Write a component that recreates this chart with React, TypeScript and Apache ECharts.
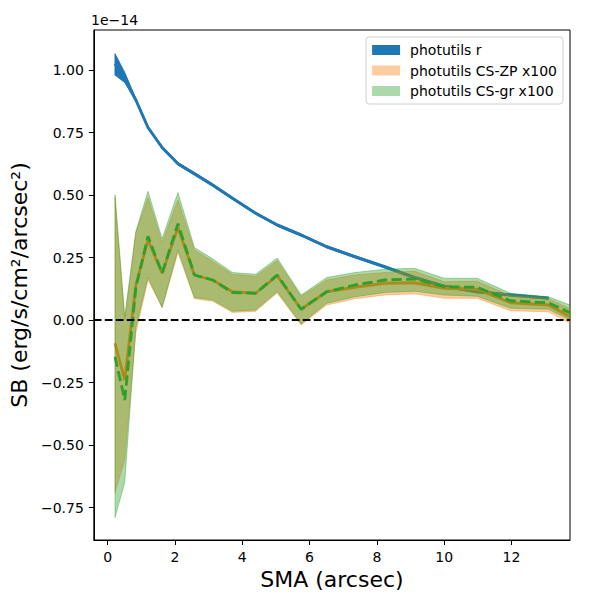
import { useEffect, useRef } from "react";
import * as echarts from "echarts";

// SMA positions (arcsec)
const sma = [0.22, 0.51, 0.84, 1.2, 1.62, 2.09, 2.58, 3.12, 3.71, 4.4, 5.04, 5.75, 6.51, 7.35, 8.23, 9.12, 10.0, 10.98, 11.97, 13.1, 13.74];

// photutils r (units of 1e-14)
const rValue = [1.025, 0.965, 0.88, 0.77, 0.69, 0.625, 0.585, 0.54, 0.487, 0.427, 0.38, 0.34, 0.293, 0.253, 0.213, 0.17, 0.135, 0.113, 0.1, 0.087];
const rUpper = [1.065, 0.99, 0.885, 0.775, 0.695, 0.63, 0.59, 0.545, 0.491, 0.431, 0.384, 0.344, 0.297, 0.257, 0.217, 0.174, 0.139, 0.117, 0.104, 0.091];
const rLower = [0.98, 0.95, 0.875, 0.765, 0.685, 0.62, 0.58, 0.535, 0.483, 0.423, 0.376, 0.336, 0.289, 0.249, 0.209, 0.166, 0.131, 0.109, 0.096, 0.083];

// photutils CS-ZP x100
const zpValue = [-0.093, -0.24, 0.14, 0.32, 0.187, 0.37, 0.18, 0.16, 0.113, 0.107, 0.177, 0.043, 0.113, 0.131, 0.147, 0.149, 0.127, 0.123, 0.069, 0.06, 0.013];
const zpUpper = [0.49, 0.0, 0.35, 0.49, 0.31, 0.48, 0.28, 0.235, 0.183, 0.175, 0.238, 0.095, 0.16, 0.18, 0.19, 0.195, 0.153, 0.155, 0.097, 0.085, 0.045];
const zpLower = [-0.69, -0.56, -0.05, 0.16, 0.05, 0.27, 0.085, 0.075, 0.03, 0.035, 0.108, -0.02, 0.06, 0.085, 0.1, 0.105, 0.087, 0.087, 0.037, 0.033, -0.013];

// photutils CS-gr x100
const grValue = [-0.147, -0.32, 0.13, 0.335, 0.187, 0.385, 0.18, 0.16, 0.11, 0.107, 0.18, 0.043, 0.113, 0.14, 0.16, 0.164, 0.133, 0.131, 0.077, 0.069, 0.029];
const grUpper = [0.5, 0.015, 0.355, 0.515, 0.325, 0.51, 0.29, 0.245, 0.19, 0.183, 0.248, 0.1, 0.17, 0.19, 0.203, 0.207, 0.167, 0.167, 0.107, 0.093, 0.06];
const grLower = [-0.79, -0.65, -0.03, 0.17, 0.05, 0.28, 0.09, 0.08, 0.035, 0.04, 0.113, -0.016, 0.067, 0.093, 0.11, 0.115, 0.1, 0.095, 0.047, 0.043, 0.0];

const xTicks = [0, 2, 4, 6, 8, 10, 12];
const yTicks = [-0.75, -0.5, -0.25, 0, 0.25, 0.5, 0.75, 1.0];

const FONT = "DejaVu Sans";

function band(name: string, lower: number[], upper: number[], fill: string, z: number) {
  return {
    type: "custom",
    name,
    z,
    clip: true,
    silent: true,
    itemStyle: { color: fill },
    data: lower.map((v, i) => [sma[i], v, upper[i]]),
    encode: { x: 0, y: [1, 2] },
    renderItem: (params: any, api: any) => {
      if (params.dataIndex !== 0) {
        return null;
      }
      const top = upper.map((v, i) => api.coord([sma[i], v]));
      const bottom = lower.map((v, i) => api.coord([sma[i], v])).reverse();
      return {
        type: "polygon",
        shape: { points: top.concat(bottom) },
        style: { fill, stroke: fill, lineWidth: 1 }
      };
    }
  };
}

function line(name: string, values: number[], color: string, width: number, type: any, z: number) {
  return {
    type: "line",
    name,
    z,
    silent: true,
    symbol: "none",
    showSymbol: false,
    data: values.map((v, i) => [sma[i], v]),
    lineStyle: { color, width, type }
  };
}

const minus = (s: string) => s.replace("-", "\u2212");

export default function App() {
  const ref = useRef<HTMLDivElement | null>(null);

  useEffect(() => {
    document.body.style.margin = "0";
    if (!ref.current) {
      return;
    }
    const chart = echarts.init(ref.current, undefined, { renderer: "svg" });
    chart.setOption({
      animation: false,
      textStyle: { fontFamily: FONT },
      grid: { left: 90, right: 30, top: 30, bottom: 60, show: true, borderColor: "#000", borderWidth: 1 },
      graphic: [
        {
          type: "text",
          left: 91,
          top: 13,
          style: { text: "1e\u221214", font: `14px "${FONT}"`, fill: "#000" }
        }
      ],
      legend: {
        right: 37,
        top: 37,
        orient: "vertical",
        selectedMode: false,
        backgroundColor: "#fff",
        borderColor: "#d0d0d0",
        borderWidth: 1,
        borderRadius: 3,
        padding: [6, 6, 6, 6],
        itemWidth: 28,
        itemHeight: 10,
        itemGap: 6.5,
        icon: "rect",
        textStyle: { fontSize: 14, color: "#000", fontFamily: FONT, padding: [0, 0, 0, 5] },
        data: [
          { name: "photutils r", itemStyle: { color: "#1f77b4" } },
          { name: "photutils CS-ZP x100", itemStyle: { color: "rgba(255,127,14,0.4)" } },
          { name: "photutils CS-gr x100", itemStyle: { color: "rgba(44,160,44,0.4)" } }
        ]
      },
      xAxis: {
        type: "value",
        min: -0.41,
        max: 13.74,
        name: "SMA (arcsec)",
        nameLocation: "middle",
        nameGap: 28,
        nameTextStyle: { fontSize: 22, color: "#000", fontFamily: FONT },
        splitLine: { show: false },
        axisLine: { show: true, onZero: false, lineStyle: { color: "#000", width: 1 } },
        axisTick: { show: true, length: 5, customValues: xTicks, lineStyle: { color: "#000" } },
        axisLabel: { customValues: xTicks, margin: 10, fontSize: 14, color: "#000", fontFamily: FONT, formatter: (v: number) => minus(String(v)) }
      },
      yAxis: {
        type: "value",
        min: -0.88,
        max: 1.16,
        name: "SB (erg/s/cm\u00b2/arcsec\u00b2)",
        nameLocation: "middle",
        nameGap: 62,
        nameTextStyle: { fontSize: 22, color: "#000", fontFamily: FONT },
        splitLine: { show: false },
        axisLine: { show: true, onZero: false, lineStyle: { color: "#000", width: 1 } },
        axisTick: { show: true, length: 5, customValues: yTicks, lineStyle: { color: "#000" } },
        axisLabel: { customValues: yTicks, margin: 10, fontSize: 14, color: "#000", fontFamily: FONT, formatter: (v: number) => minus(v.toFixed(2)) }
      },
      series: [
        band("photutils r", rLower, rUpper, "#1f77b4", 1),
        line("r line", rValue, "#1f77b4", 3, "solid", 2),
        band("photutils CS-ZP x100", zpLower, zpUpper, "rgba(255,127,14,0.4)", 3),
        line("zp line", zpValue, "#ff7f0e", 2.8, "solid", 4),
        band("photutils CS-gr x100", grLower, grUpper, "rgba(44,160,44,0.4)", 5),
        {
          ...line("gr line", grValue, "#2ca02c", 2.8, [10.3, 4.4], 6),
          markLine: {
            silent: true,
            symbol: "none",
            z: 7,
            label: { show: false },
            lineStyle: { color: "#000", width: 2, type: [7.7, 3.3] },
            data: [{ yAxis: 0 }]
          }
        }
      ]
    });
    return () => {
      chart.dispose();
    };
  }, []);

  return <div ref={ref} style={{ width: 600, height: 600 }} />;
}
